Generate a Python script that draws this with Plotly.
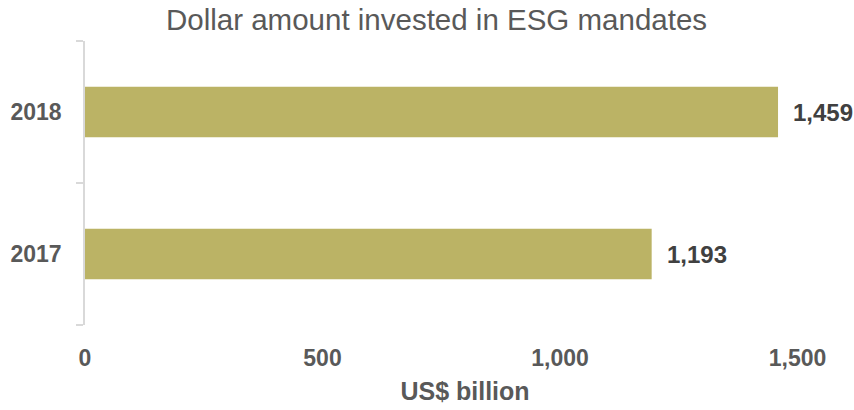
import plotly.graph_objects as go

years = ["2017", "2018"]
values = [1193, 1459]
value_labels = ["1,193", "1,459"]
x_tick_vals = [0, 500, 1000, 1500]
x_tick_text = ["0", "500", "1,000", "1,500"]

FONT = "Liberation Sans, Arial, sans-serif"

fig = go.Figure()
fig.add_trace(go.Bar(
    y=years, x=values, orientation="h",
    marker=dict(color="#BBB365", line=dict(width=0)),
    width=0.357,
    hoverinfo="x+y",
))

# category axes take annotation positions as category serial numbers
for idx, (v, lab) in enumerate(zip(values, value_labels)):
    fig.add_annotation(
        x=v, y=idx, xref="x", yref="y", text=lab, showarrow=False,
        xanchor="left", yanchor="middle", xshift=13,
        font=dict(family=FONT, size=24, color="#404040", weight="bold"),
    )

fig.update_layout(
    width=854, height=410,
    margin=dict(l=85, r=9, t=41, b=77),
    paper_bgcolor="white", plot_bgcolor="white",
    font=dict(family=FONT, color="#595959"),
    title=dict(text="Dollar amount invested in ESG mandates", x=436.5 / 854, xanchor="center",
               xref="container", yref="container",
               y=1 - 20 / 410, yanchor="middle", font=dict(size=29.5, color="#595959")),
    showlegend=False,
)
fig.update_xaxes(
    range=[0, 1600], tickvals=x_tick_vals, ticktext=x_tick_text,
    showgrid=False, zeroline=False, showline=False, ticks="",
    ticklabelstandoff=17,
    tickfont=dict(family=FONT, size=23, color="#595959", weight="bold"),
    title=dict(text="US$ billion", font=dict(family=FONT, size=25, color="#595959", weight="bold"), standoff=12),
)
fig.update_yaxes(
    type="category", categoryorder="array", categoryarray=years,
    range=[-0.5, 1.5],
    showgrid=False, zeroline=False, showline=True, linecolor="#D9D9D9", linewidth=1.5,
    ticks="outside", tickson="boundaries", ticklen=7, tickcolor="#D9D9D9", tickwidth=1.5,
    ticklabelstandoff=17,
    tickfont=dict(family=FONT, size=23, color="#595959", weight="bold"),
)

fig.write_html("out.html")
